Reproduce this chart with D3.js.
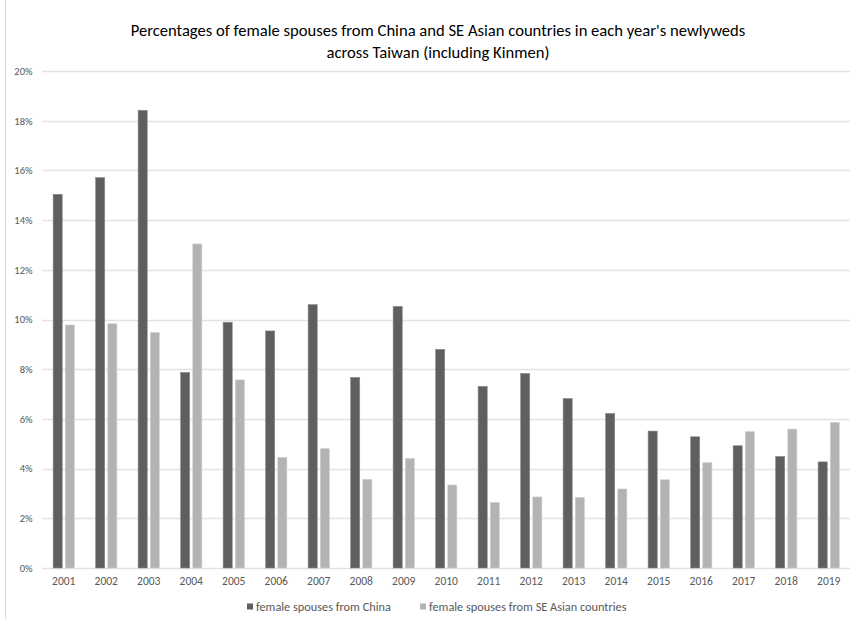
<!DOCTYPE html>
<html>
<head>
<meta charset="utf-8">
<script src="https://cdn.jsdelivr.net/npm/d3@7"></script>
<style>
  html, body { margin: 0; padding: 0; background: #fff; }
  svg { display: block; }
  text { font-family: Carlito, Calibri, Lato, "Open Sans", sans-serif; }
</style>
</head>
<body>
<svg id="chart" width="857" height="619"></svg>
<script>
// Years shown on the category axis
const years = ["2001","2002","2003","2004","2005","2006","2007","2008","2009","2010",
               "2011","2012","2013","2014","2015","2016","2017","2018","2019"];

// Share of each year's newlyweds (percent)
const chinaShare = [15.04, 15.71, 18.42, 7.87, 9.89, 9.54, 10.60, 7.67, 10.53, 8.80,
                    7.31, 7.83, 6.82, 6.22, 5.51, 5.28, 4.92, 4.49, 4.27];
const seAsiaShare = [9.78, 9.83, 9.48, 13.04, 7.57, 4.45, 4.80, 3.57, 4.41, 3.34,
                     2.64, 2.86, 2.84, 3.18, 3.55, 4.24, 5.49, 5.59, 5.86];

const seriesNames = ["female spouses from China", "female spouses from SE Asian countries"];
const seriesColors = ["#5f5f5f", "#b3b3b3"];
const yTicks = [0, 2, 4, 6, 8, 10, 12, 14, 16, 18, 20];

const titleLines = [
  "Percentages of female spouses from China and SE Asian countries in each year's newlyweds",
  "across Taiwan (including Kinmen)"
];

const svg = d3.select("#chart");
const W = 857, H = 619;
const plot = { left: 42.5, right: 850, top: 71, bottom: 568 };

// chart-area border on the left edge
svg.append("line")
  .attr("x1", 5.5).attr("x2", 5.5).attr("y1", 0).attr("y2", H)
  .attr("stroke", "#d9d9d9").attr("stroke-width", 1);

const x = d3.scaleBand().domain(years).range([plot.left, plot.right])
  .paddingInner(0.5).paddingOuter(0.25);
const xSub = d3.scaleBand().domain([0, 1]).range([0, x.bandwidth()]).paddingInner(0.25);
const y = d3.scaleLinear().domain([0, 20]).range([plot.bottom, plot.top]);

// horizontal gridlines
svg.append("g")
  .selectAll("line").data(yTicks).join("line")
  .attr("x1", plot.left).attr("x2", plot.right)
  .attr("y1", d => Math.round(y(d)) + 0.5).attr("y2", d => Math.round(y(d)) + 0.5)
  .attr("stroke", "#e3e3e3").attr("stroke-width", 1.3);

// y axis labels
const yAxis = d3.axisLeft(y).tickValues(yTicks).tickFormat(d => d + "%").tickSize(0).tickPadding(10);
const yg = svg.append("g").attr("transform", `translate(${plot.left},0)`).call(yAxis);
yg.select(".domain").remove();
yg.selectAll("text").attr("fill", "#595959").style("font-size", "10.5px")
  .style("font-family", "Carlito, Calibri, Lato, sans-serif");

// x axis labels
const xAxis = d3.axisBottom(x).tickSize(0).tickPadding(9);
const xg = svg.append("g").attr("transform", `translate(0,${plot.bottom})`).call(xAxis);
xg.select(".domain").remove();
xg.selectAll("text").attr("fill", "#595959").style("font-size", "11.5px")
  .style("font-family", "Carlito, Calibri, Lato, sans-serif");

// bars
const series = [chinaShare, seAsiaShare];
series.forEach((vals, si) => {
  svg.append("g")
    .selectAll("rect").data(years).join("rect")
    .attr("x", (d) => x(d) + xSub(si))
    .attr("width", xSub.bandwidth())
    .attr("y", (d, i) => y(vals[i]))
    .attr("height", (d, i) => y(0) - y(vals[i]))
    .attr("fill", seriesColors[si])
    .attr("stroke", si === 0 ? "#8a8a8a" : "#d0d0d0")
    .attr("stroke-width", 0.6);
});

// title
svg.append("g").selectAll("text").data(titleLines).join("text")
  .attr("x", 438).attr("y", (d, i) => 36 + i * 22)
  .attr("text-anchor", "middle")
  .attr("fill", "#000").style("font-size", "16.6px")
  .text(d => d);

// legend
const legend = svg.append("g");
const legendX = [247, 420];
seriesNames.forEach((name, i) => {
  const g = legend.append("g").attr("transform", `translate(${legendX[i]},603)`);
  g.append("rect").attr("width", 6).attr("height", 6).attr("y", 0.5).attr("fill", seriesColors[i]);
  g.append("text").attr("x", 9).attr("y", 8).attr("fill", "#595959")
    .style("font-size", "12.3px").text(name);
});
</script>
</body>
</html>
